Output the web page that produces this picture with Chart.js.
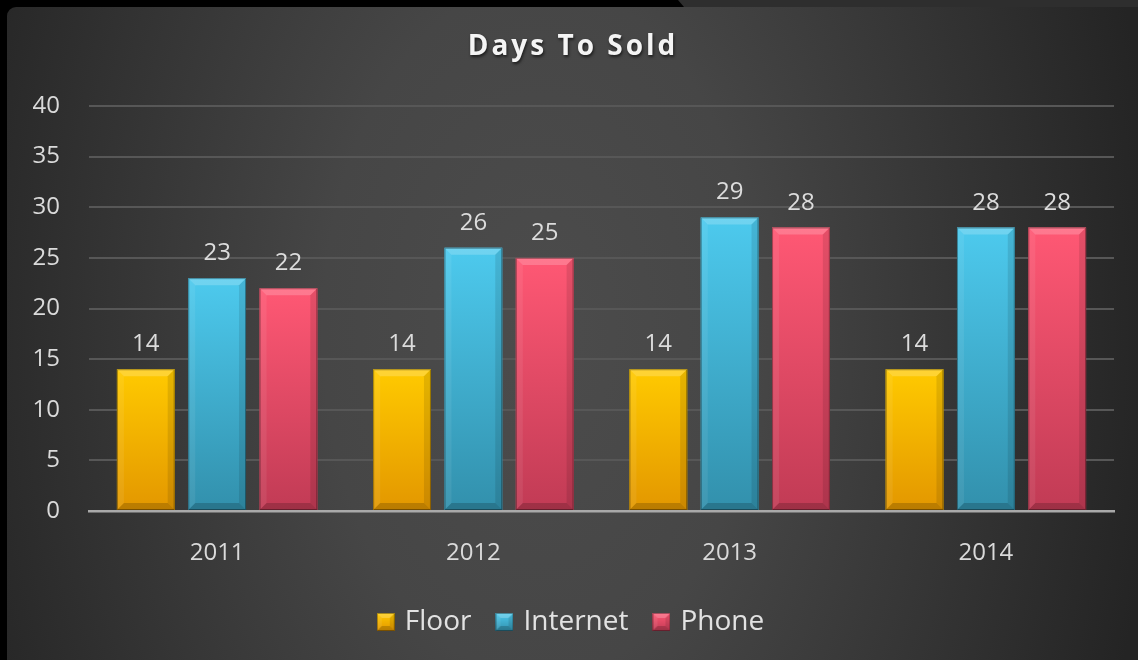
<!DOCTYPE html>
<html>
<head>
<meta charset="utf-8">
<script src="https://cdn.jsdelivr.net/npm/chart.js@4.4.1/dist/chart.umd.min.js"></script>
<style>
  html, body { margin: 0; padding: 0; background: #000; }
  #chart { display: block; }
</style>
</head>
<body>
<canvas id="chart" width="1138" height="660"></canvas>
<script>
const chartTitle = 'Days To Sold';
const years = ['2011', '2012', '2013', '2014'];
const floor = [14, 14, 14, 14];
const internet = [23, 26, 29, 28];
const phone = [22, 25, 28, 28];
const yTicks = [0, 5, 10, 15, 20, 25, 30, 35, 40];

// top and bottom colour of each series' bar gradient
const floorColors = ['#ffca00', '#e39700'];
const internetColors = ['#4dcaee', '#3290ac'];
const phoneColors = ['#ff5874', '#c13b55'];

const fontFamily = '"Open Sans", "Noto Sans", sans-serif';

// light top / dark bottom edges that give the bars their raised look
function bevel(ctx, x, y, w, h, b) {
  const shade = (pts, color) => {
    ctx.beginPath();
    ctx.moveTo(pts[0][0], pts[0][1]);
    for (let i = 1; i < pts.length; i++) ctx.lineTo(pts[i][0], pts[i][1]);
    ctx.closePath();
    ctx.fillStyle = color;
    ctx.fill();
  };
  shade([[x, y], [x + w, y], [x + w - b, y + b], [x + b, y + b]], 'rgba(255,255,255,0.20)');
  shade([[x, y], [x + b, y + b], [x + b, y + h - b], [x, y + h]], 'rgba(255,255,255,0.07)');
  shade([[x + w, y], [x + w, y + h], [x + w - b, y + h - b], [x + w - b, y + b]], 'rgba(0,0,0,0.10)');
  shade([[x, y + h], [x + b, y + h - b], [x + w - b, y + h - b], [x + w, y + h]], 'rgba(0,0,0,0.18)');
  ctx.strokeStyle = 'rgba(0,0,0,0.35)';
  ctx.lineWidth = 1;
  ctx.strokeRect(x + 0.5, y + 0.5, w - 1, h - 1);
}

function swatch(colors) {
  const c = document.createElement('canvas');
  c.width = 18;
  c.height = 18;
  const g = c.getContext('2d');
  const grad = g.createLinearGradient(0, 0, 0, 18);
  grad.addColorStop(0, colors[0]);
  grad.addColorStop(1, colors[1]);
  g.fillStyle = grad;
  g.fillRect(0, 0, 18, 18);
  bevel(g, 0, 0, 18, 18, 5);
  return c;
}

const series = [
  { label: 'Floor', data: floor, colors: floorColors },
  { label: 'Internet', data: internet, colors: internetColors },
  { label: 'Phone', data: phone, colors: phoneColors }
];
const swatches = series.map(s => swatch(s.colors));

const decor = {
  id: 'decor',
  beforeDraw(chart) {
    const { ctx, width, height } = chart;
    ctx.save();
    ctx.fillStyle = '#000';
    ctx.fillRect(0, 0, width, height);
    ctx.fillStyle = '#2e2e2e';
    ctx.beginPath();
    ctx.moveTo(678, 0);
    ctx.lineTo(width, 0);
    ctx.lineTo(width, 7);
    ctx.lineTo(684, 7);
    ctx.closePath();
    ctx.fill();

    ctx.beginPath();
    ctx.roundRect(7, 7, width - 7, height - 7, [9, 0, 0, 0]);
    ctx.clip();
    ctx.translate(540, 330);
    ctx.scale(1, 1.6);
    const g = ctx.createRadialGradient(0, 0, 0, 0, 0, 620);
    g.addColorStop(0, '#4c4c4c');
    g.addColorStop(0.35, '#464646');
    g.addColorStop(1, '#242424');
    ctx.fillStyle = g;
    ctx.fillRect(-700, -400, 1400, 800);
    ctx.restore();
  },
  afterDatasetsDraw(chart) {
    const ctx = chart.ctx;
    ctx.save();
    chart.getSortedVisibleDatasetMetas().forEach(meta => {
      const s = series[meta.index];
      meta.data.forEach((bar, i) => {
        const { x, y, base, width } = bar.getProps(['x', 'y', 'base', 'width'], true);
        const left = x - width / 2;
        const h = base - y;
        const grad = ctx.createLinearGradient(0, y, 0, base);
        grad.addColorStop(0, s.colors[0]);
        grad.addColorStop(1, s.colors[1]);
        ctx.fillStyle = grad;
        ctx.fillRect(left, y, width, h);
        bevel(ctx, left, y, width, h, 7);

        ctx.fillStyle = '#dcdcdc';
        ctx.font = '24px ' + fontFamily;
        ctx.textAlign = 'center';
        ctx.textBaseline = 'alphabetic';
        ctx.fillText(String(s.data[i]), x, y - 18);
      });
    });
    ctx.restore();
  },
  afterDraw(chart) {
    const ctx = chart.ctx;
    ctx.save();
    ctx.font = 'bold 28px ' + fontFamily;
    ctx.letterSpacing = '3px';
    ctx.textAlign = 'center';
    ctx.textBaseline = 'middle';
    ctx.shadowColor = 'rgba(0,0,0,0.6)';
    ctx.shadowBlur = 3;
    ctx.shadowOffsetX = 1;
    ctx.shadowOffsetY = 2;
    ctx.fillStyle = '#f4f4f4';
    ctx.fillText(chartTitle, 573, 47);
    ctx.restore();
  }
};

new Chart(document.getElementById('chart'), {
  type: 'bar',
  data: {
    labels: years,
    datasets: series.map(s => ({
      label: s.label,
      data: s.data,
      backgroundColor: s.colors[0],
      borderWidth: 0,
      categoryPercentage: 0.835,
      barPercentage: 0.81
    }))
  },
  options: {
    responsive: false,
    animation: false,
    devicePixelRatio: 1,
    layout: { padding: { top: 106, left: 31, right: 24, bottom: 14 } },
    scales: {
      x: {
        grid: { display: false, drawTicks: false },
        border: { color: '#a9a9a9', width: 2.5 },
        ticks: { color: '#dadada', font: { family: fontFamily, size: 24 }, padding: 28 },
        afterFit(scale) { scale.height = 69; }
      },
      y: {
        min: yTicks[0],
        max: yTicks[yTicks.length - 1],
        grid: { color: '#575757', lineWidth: 2, drawTicks: false },
        border: { display: false },
        ticks: {
          stepSize: yTicks[1] - yTicks[0],
          color: '#dadada',
          font: { family: fontFamily, size: 24 },
          padding: 29
        },
        afterFit(scale) { scale.width = 58; }
      }
    },
    plugins: {
      title: { display: false },
      tooltip: { enabled: false },
      legend: {
        position: 'bottom',
        labels: {
          color: '#e2e2e2',
          font: { family: fontFamily, size: 28 },
          usePointStyle: true,
          pointStyleWidth: 10,
          padding: 28,
          generateLabels(chart) {
            const items = Chart.defaults.plugins.legend.labels.generateLabels(chart);
            items.forEach((item, i) => { item.pointStyle = swatches[i]; });
            return items;
          }
        }
      }
    }
  },
  plugins: [decor]
});
</script>
</body>
</html>
